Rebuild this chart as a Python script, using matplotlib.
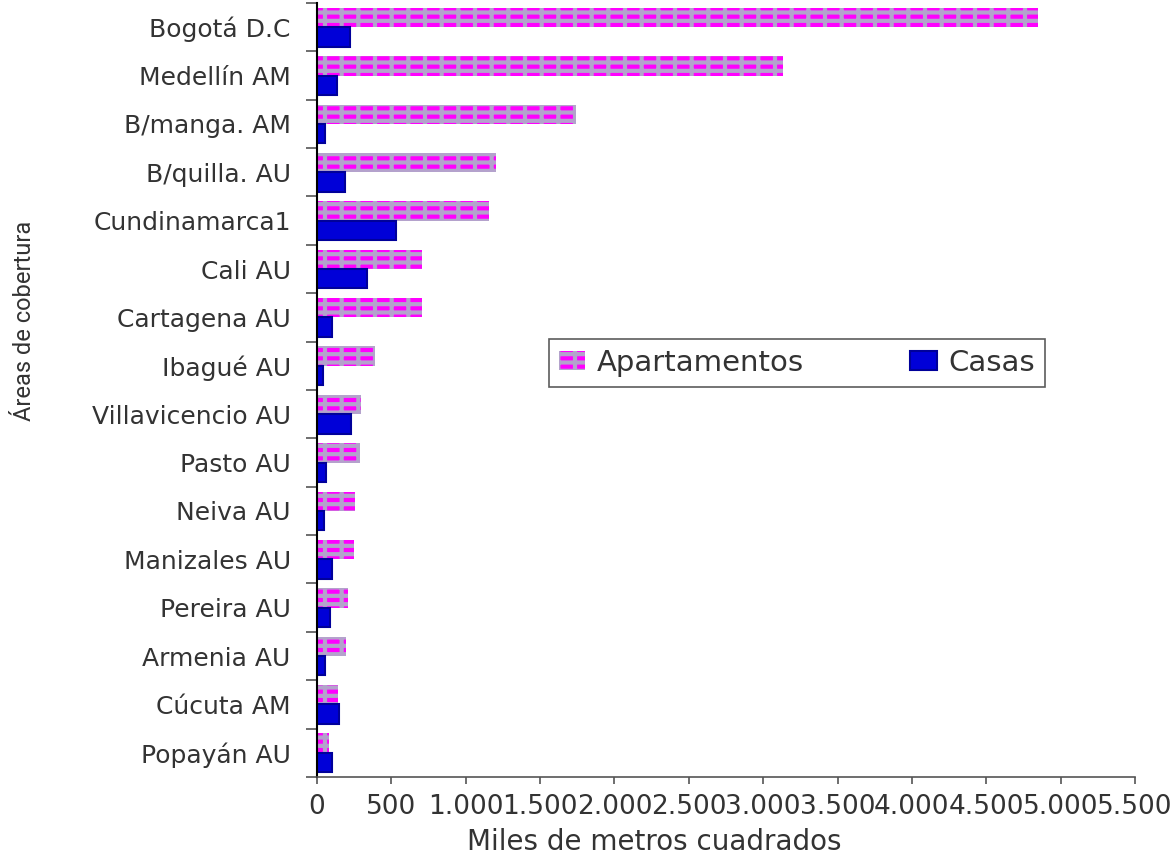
import matplotlib
matplotlib.use("Agg")
import matplotlib.pyplot as plt
from matplotlib.ticker import FuncFormatter, FixedLocator
import numpy as np

plt.rcParams["font.family"] = ["DejaVu Sans"]
plt.rcParams["hatch.linewidth"] = 3.0

areas = ["Bogotá D.C", "Medellín AM", "B/manga. AM", "B/quilla. AU", "Cundinamarca1",
         "Cali AU", "Cartagena AU", "Ibagué AU", "Villavicencio AU", "Pasto AU",
         "Neiva AU", "Manizales AU", "Pereira AU", "Armenia AU", "Cúcuta AM", "Popayán AU"]
apartamentos = [4848, 3134, 1742, 1204, 1157, 706, 706, 390, 296, 289, 256, 249, 208, 195, 141, 81]
casas = [222, 134, 54, 188, 531, 336, 101, 40, 229, 60, 47, 101, 87, 54, 148, 101]

fig = plt.figure(figsize=(11.73, 8.59), dpi=100)
ax = fig.add_axes([0.2703, 0.0955, 0.6973, 0.9010])

y = np.arange(len(areas))
h = 0.4
# patrón: fondo magenta con rejilla lila -> bloques magenta
ax.barh(y - h / 2, apartamentos, height=h, color="#ff00ff", edgecolor="#b4a2cc",
        linewidth=0, hatch="--|", label="Apartamentos")
ax.barh(y + h / 2, casas, height=h, color="#0000d8", edgecolor="#00009a",
        linewidth=1.5, label="Casas")

ax.set_ylim(len(areas) - 0.5, -0.5)
ax.set_xlim(0, 5500)
ax.set_xticks(np.arange(0, 5501, 500))
ax.xaxis.set_major_formatter(FuncFormatter(lambda v, p: f"{int(v):,}".replace(",", ".")))

ax.yaxis.set_major_locator(FixedLocator(np.arange(-0.5, len(areas), 1)))
ax.yaxis.set_minor_locator(FixedLocator(y))
ax.set_yticklabels([], minor=False)
ax.set_yticklabels(areas, minor=True)
ax.tick_params(axis="y", which="major", length=8, width=1.2, color="#555555")
ax.tick_params(axis="y", which="minor", length=0, pad=19, labelsize=18, labelcolor="#333333")
ax.tick_params(axis="x", length=5, width=1.2, color="#555555", pad=7, labelsize=19,
               labelcolor="#333333")

for s in ["top", "right"]:
    ax.spines[s].set_visible(False)
ax.spines["left"].set_linewidth(1.5)
ax.spines["left"].set_color("black")
ax.spines["bottom"].set_color("#555555")
ax.spines["bottom"].set_linewidth(1.2)

leg = ax.legend(loc="center", bbox_to_anchor=(0.2836, 0.5013, 0.6064, 0.0672), mode="expand",
                ncol=2, fontsize=21, frameon=True, fancybox=False, handlelength=0.9,
                handleheight=0.6, handletextpad=0.4, borderaxespad=0, borderpad=0.35)
leg.get_frame().set_edgecolor("#333333")
leg.get_frame().set_linewidth(1.2)
for t in leg.get_texts():
    t.set_color("#333333")

fig.text(0.5575, 0.02, "Miles de metros cuadrados", ha="center", va="center",
         fontsize=20, color="#333333")
fig.text(0.021, 0.627, "Áreas de cobertura", rotation=90, ha="center", va="center",
         fontsize=17, color="#333333", family="Roboto")

fig.savefig("out.png", dpi=100)
